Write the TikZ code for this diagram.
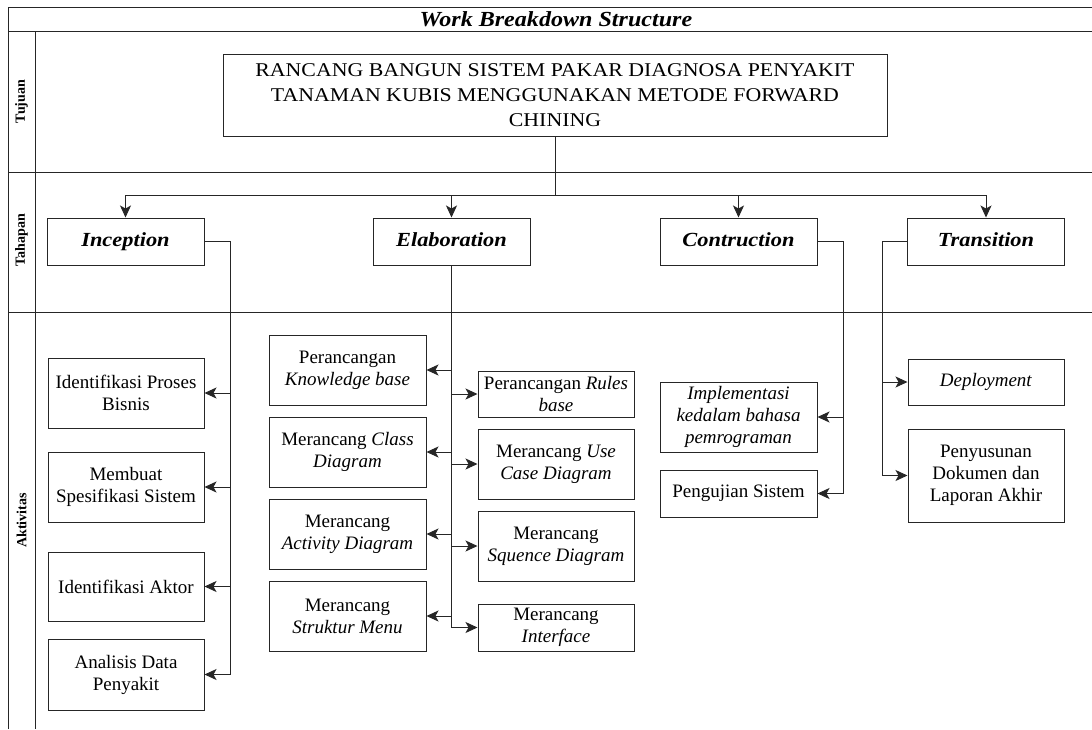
\documentclass[tikz,border=0pt]{standalone}
\usepackage{fontspec}
\setmainfont{Liberation Serif}
\newfontfamily\widefont[FakeStretch=1.12]{Liberation Serif}
\usetikzlibrary{arrows.meta}
\begin{document}
\begin{tikzpicture}[x=1pt,y=-1pt,
  frame/.style={draw=black!85, line width=1pt},
  wbox/.style={draw=black!85, line width=1pt, align=center, inner sep=1pt,
    font=\fontsize{19}{22}\selectfont},
  stage/.style={wbox, minimum width=157pt, minimum height=47pt,
    text height=14pt, text depth=4pt,
    font=\widefont\fontsize{20}{22}\selectfont\bfseries\itshape},
  lane/.style={rotate=90, font=\fontsize{14}{15}\selectfont\bfseries},
  link/.style={draw=black!85, line width=1pt},
  arr/.style={link, -{Stealth[length=12pt,width=11pt,inset=3pt]}},
]
\useasboundingbox (0,0) rectangle (1092,729);

% swimlane frame
\draw[frame] (8,729) -- (8,7) -- (1092,7);
\draw[frame] (8,31) -- (1092,31);
\draw[frame] (8,172) -- (1092,172);
\draw[frame] (8,312) -- (1092,312);
\draw[frame] (35,31) -- (35,729);

\node[font=\widefont\fontsize{21.5}{22}\selectfont\bfseries\itshape] (title) at (556,19) {Work Breakdown Structure};
\node[lane] (lTujuan) at (21.5,101.5) {Tujuan};
\node[lane] (lTahapan) at (21.5,240) {Tahapan};
\node[lane] (lAktivitas) at (21.5,520.5) {Aktivitas};

% goal
\node[wbox, minimum width=664pt, minimum height=82pt,
  font=\widefont\fontsize{19.5}{25}\selectfont] (main) at (555,95)
  {RANCANG BANGUN SISTEM PAKAR DIAGNOSA PENYAKIT\\TANAMAN KUBIS MENGGUNAKAN METODE FORWARD\\CHINING};

% phases
\node[stage] (inc) at (125.5,241.5) {Inception};
\node[stage] (ela) at (451.5,241.5) {Elaboration};
\node[stage] (con) at (738.5,241.5) {Contruction};
\node[stage] (tra) at (986,241.5) {Transition};

\coordinate (busc) at (555,195);
\draw[link] (main.south) -- (busc);
\draw[arr] (busc) -| (inc.north);
\draw[arr] (busc) -| (ela.north);
\draw[arr] (busc) -| (con.north);
\draw[arr] (busc) -| (tra.north);

% inception activities
\node[wbox, minimum width=156pt, minimum height=70pt] (ipb) at (126,393) {Identifikasi Proses\\Bisnis};
\node[wbox, minimum width=156pt, minimum height=70pt] (mss) at (126,487) {Membuat\\Spesifikasi Sistem};
\node[wbox, minimum width=156pt, minimum height=69pt] (ia) at (126,586.5) {Identifikasi Aktor};
\node[wbox, minimum width=156pt, minimum height=71pt] (adp) at (126,674.5) {Analisis Data\\Penyakit};

\coordinate (incv) at (230,241.5);
\foreach \t in {ipb,mss,ia,adp}
  \draw[arr] (inc.east) -- (incv) |- (\t.east);

% elaboration activities
\node[wbox, minimum width=157pt, minimum height=70pt] (kb) at (347.5,370) {Perancangan\\\textit{Knowledge base}};
\node[wbox, minimum width=157pt, minimum height=70pt] (cd) at (347.5,452) {Merancang \textit{Class}\\\textit{Diagram}};
\node[wbox, minimum width=157pt, minimum height=70pt] (ad) at (347.5,534) {Merancang\\\textit{Activity Diagram}};
\node[wbox, minimum width=157pt, minimum height=70pt] (sm) at (347.5,616) {Merancang\\\textit{Struktur Menu}};

\node[wbox, minimum width=156pt, minimum height=46pt] (rb) at (556,394) {Perancangan \textit{Rules}\\\textit{base}};
\node[wbox, minimum width=156pt, minimum height=70pt] (uc) at (556,464) {Merancang \textit{Use}\\\textit{Case Diagram}};
\node[wbox, minimum width=156pt, minimum height=70pt] (sd) at (556,546) {Merancang\\\textit{Squence Diagram}};
\node[wbox, minimum width=156pt, minimum height=47pt] (intf) at (556,627.5) {Merancang\\\textit{Interface}};

\foreach \t in {kb,cd,ad,sm}
  \draw[arr] (ela.south) |- (\t.east);
\foreach \t in {rb,uc,sd,intf}
  \draw[arr] (ela.south) |- (\t.west);

% construction activities
\node[wbox, minimum width=157pt, minimum height=70pt] (impl) at (738.5,417) {\textit{Implementasi}\\\textit{kedalam bahasa}\\\textit{pemrograman}};
\node[wbox, minimum width=157pt, minimum height=47pt] (uji) at (738.5,493.5) {Pengujian Sistem};

\coordinate (conv) at (843,241.5);
\foreach \t in {impl,uji}
  \draw[arr] (con.east) -- (conv) |- (\t.east);

% transition activities
\node[wbox, minimum width=156pt, minimum height=46pt] (dep) at (986,382) {\textit{Deployment}};
\node[wbox, minimum width=156pt, minimum height=93pt] (lap) at (986,475.5) {Penyusunan\\Dokumen dan\\Laporan Akhir};

\coordinate (trav) at (882,241.5);
\foreach \t in {dep,lap}
  \draw[arr] (tra.west) -- (trav) |- (\t.west);
\end{tikzpicture}
\end{document}
